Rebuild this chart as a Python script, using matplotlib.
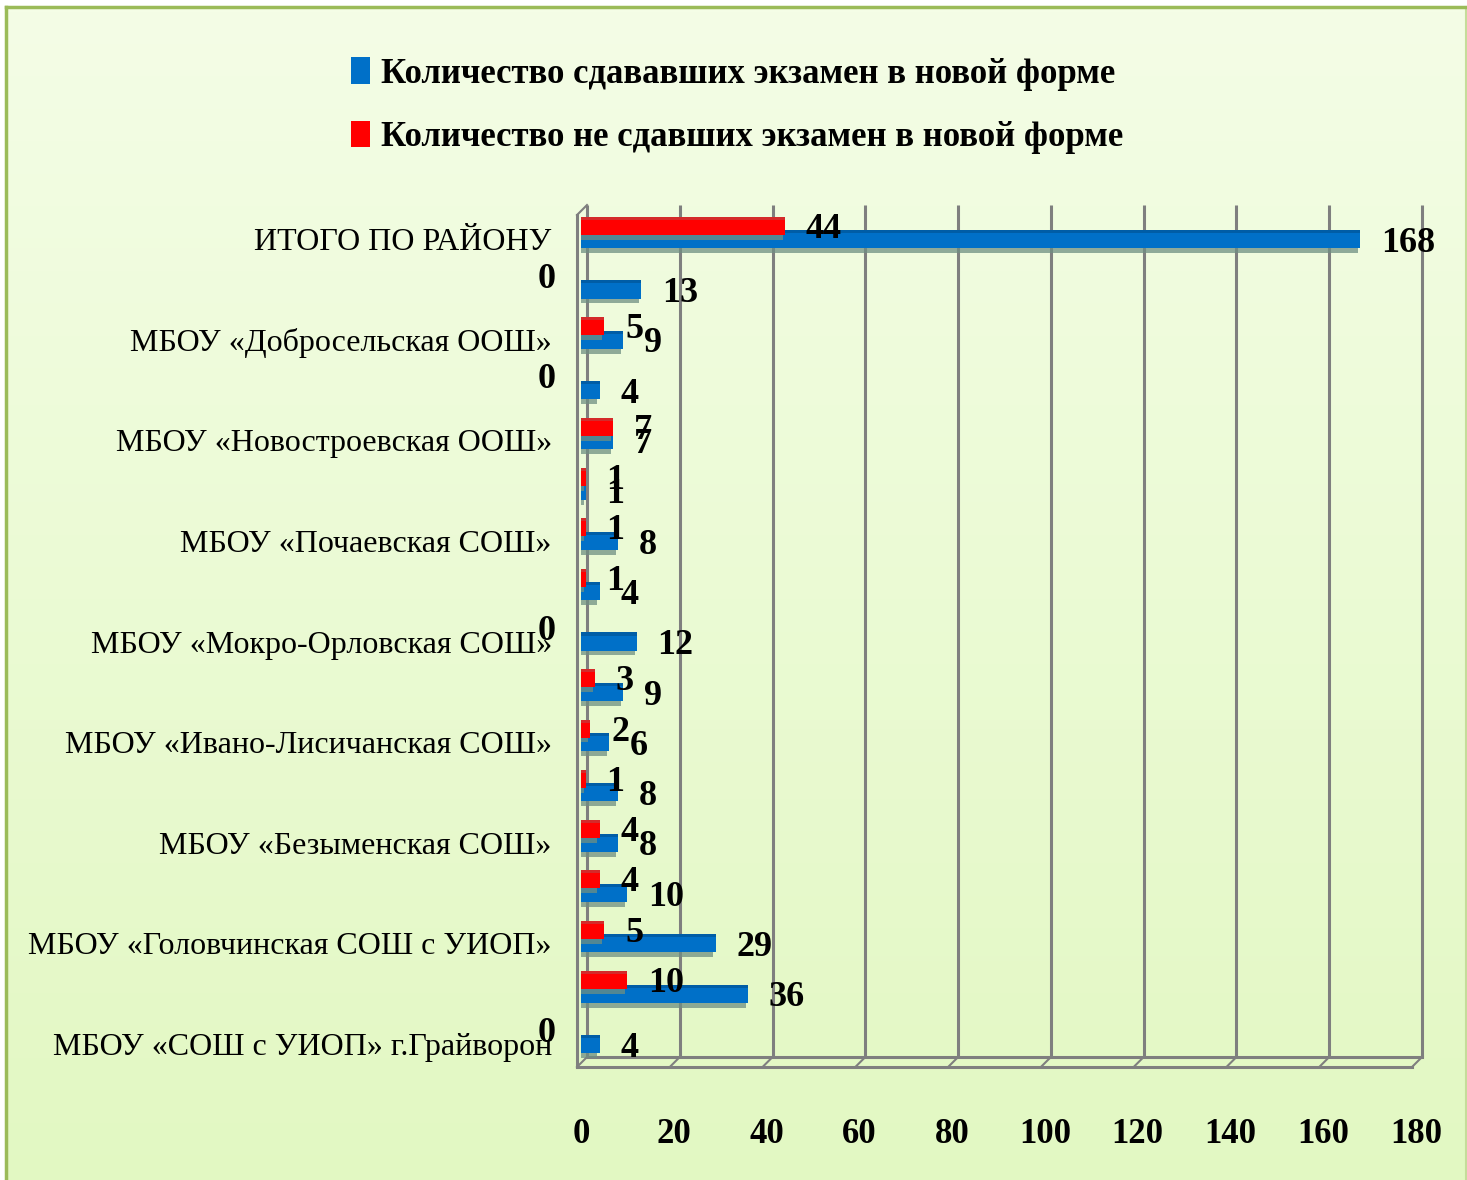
import matplotlib
matplotlib.use('Agg')
import matplotlib.pyplot as plt
import numpy as np
from matplotlib.patches import Patch
from matplotlib.colors import LinearSegmentedColormap
from matplotlib.transforms import ScaledTranslation
import matplotlib.patheffects as pe

plt.rcParams['font.family'] = ['Liberation Serif', 'DejaVu Serif']

# строки сверху вниз (подписи Excel показал через одну)
categories = ['ИТОГО ПО РАЙОНУ', '', 'МБОУ «Добросельская ООШ»', '',
              'МБОУ «Новостроевская ООШ»', '', 'МБОУ «Почаевская СОШ»', '',
              'МБОУ «Мокро-Орловская СОШ»', '', 'МБОУ «Ивано-Лисичанская СОШ»', '',
              'МБОУ «Безыменская СОШ»', '', 'МБОУ «Головчинская СОШ с УИОП»', '',
              'МБОУ «СОШ с УИОП» г.Грайворон']
sdavali = [168, 13, 9, 4, 7, 1, 8, 4, 12, 9, 6, 8, 8, 10, 29, 36, 4]
ne_sdali = [44, 0, 5, 0, 7, 1, 1, 1, 0, 3, 2, 1, 4, 4, 5, 10, 0]
xticks = list(range(0, 181, 20))

legend_labels = ['Количество сдававших экзамен в новой форме',
                 'Количество не сдавших экзамен в новой форме']

BLUE = '#0070c8'
BLUE_TOP = '#005da6'
RED = '#ff0000'
RED_TOP = '#d42a2a'
GRID = '#7f7f7f'

W, H = 1467, 1180
fig = plt.figure(figsize=(W / 100, H / 100), dpi=100)
fig.patch.set_facecolor('white')

# фон с градиентом и рамкой
bg = fig.add_axes([6 / W, -0.01, (1466 - 6) / W, 1.01 - 7 / H])
cmap = LinearSegmentedColormap.from_list('bg', ['#e2f8c2', '#f4fde6'])
bg.imshow(np.linspace(0, 1, 256).reshape(-1, 1)[::-1], aspect='auto',
          cmap=cmap, extent=[0, 1, 0, 1])
bg.set_xticks([])
bg.set_yticks([])
for s in ['top', 'left']:
    bg.spines[s].set_color('#9bbb59')
    bg.spines[s].set_linewidth(2.5)
bg.spines['right'].set_color('#c5dc9a')
bg.spines['right'].set_linewidth(1.5)
bg.spines['bottom'].set_visible(False)
bg.set_zorder(-10)

# основная область
ax = fig.add_axes([581 / W, 1 - 1062 / H, 835 / W, 857 / H])
ax.patch.set_alpha(0)
ax.set_xlim(0, 180)
ax.set_ylim(16.36, -0.68)
for s in ax.spines.values():
    s.set_visible(False)

def shift(dx, dy=0):
    return ScaledTranslation(dx / 100, -dy / 100, fig.dpi_scale_trans)

xt = ax.get_xaxis_transform()
back = xt + shift(6)
front = xt + shift(-4)
yb = (1062 - 1057) / 857
yf = (1062 - 1067) / 857
ytop = 1.0
for v in xticks:
    ax.plot([v, v], [yb, ytop], color=GRID, lw=2.2, transform=back,
            clip_on=False, zorder=1, solid_capstyle='butt')
# диагонали пола
for v in xticks:
    x0 = ax.transData.transform((v, 0))[0]
    p1 = (x0 + 6, ax.transAxes.transform((0, yb))[1])
    p2 = (x0 - 4, ax.transAxes.transform((0, yf))[1])
    ax.plot([p1[0], p2[0]], [p1[1], p2[1]], color=GRID, lw=1.5,
            transform=None, clip_on=False, zorder=1)
ax.plot([0, 180], [yb, yb], color=GRID, lw=2.2, transform=back,
        clip_on=False, zorder=1)
ax.plot([0, 180], [yf, yf], color=GRID, lw=2.2, transform=front,
        clip_on=False, zorder=1)
ax.plot([0, 0], [yf, (1062 - 215) / 857], color=GRID, lw=2.2,
        transform=front, clip_on=False, zorder=1)
# верхний левый угол стенки
pa = ax.transData.transform((0, 0))[0]
ytp = ax.transAxes.transform((0, 1))[1]
ax.plot([pa - 4, pa + 6], [ytp - 10, ytp], color=GRID, lw=1.5,
        transform=None, clip_on=False, zorder=1)

y = np.arange(len(categories))
h = 0.36
dy_red = 0.27
shadow = [pe.SimplePatchShadow(offset=(-1.5, -3.5), shadow_rgbFace='#6f8f82',
                               alpha=0.75), pe.Normal()]

bb = ax.barh(y, sdavali, height=h, color=BLUE, zorder=3)
for p in bb:
    p.set_path_effects(shadow)
ax.barh(y - h / 2 + 0.03, sdavali, height=0.06, color=BLUE_TOP, zorder=3.1)

br = ax.barh(y - dy_red, ne_sdali, height=h, color=RED, zorder=4)
for p in br:
    p.set_path_effects(shadow)
ax.barh(y - dy_red - h / 2 + 0.03, ne_sdali, height=0.06, color=RED_TOP,
        zorder=4.1)

lab = dict(fontsize=26, fontweight='bold', color='black', va='center',
           zorder=6, annotation_clip=False)
for i in range(len(categories)):
    ax.annotate(str(sdavali[i]), (sdavali[i], y[i]), xytext=(15, -3),
                textcoords='offset points', ha='left', **lab)
    if ne_sdali[i] == 0:
        ax.annotate('0', (0, y[i] - dy_red), xytext=(-18, -2.5),
                    textcoords='offset points', ha='right', **lab)
    else:
        ax.annotate(str(ne_sdali[i]), (ne_sdali[i], y[i] - dy_red),
                    xytext=(15, -2.5), textcoords='offset points',
                    ha='left', **lab)

ax.set_xticks(xticks)
ax.set_xticklabels([str(v) for v in xticks], fontsize=25, fontweight='bold')
ax.set_yticks(y)
ax.set_yticklabels(categories, fontsize=23)
ax.tick_params(axis='x', length=0, pad=40)
ax.tick_params(axis='y', length=0, pad=21)

handles = [Patch(facecolor=BLUE), Patch(facecolor=RED)]
fig.legend(handles, legend_labels, loc='upper left',
           bbox_to_anchor=(320 / W, 1 - 26 / H), frameon=False,
           prop={'size': 25, 'weight': 'bold'}, handlelength=0.55,
           handleheight=0.8, handletextpad=0.3, labelspacing=0.87,
           borderpad=0.4)

fig.savefig('out.png', dpi=100)
